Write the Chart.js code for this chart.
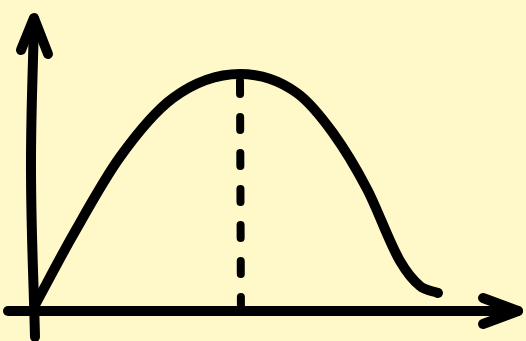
<!DOCTYPE html>
<html>
<head>
<meta charset="utf-8">
<script src="https://cdn.jsdelivr.net/npm/chart.js@4"></script>
<style>
  html, body { margin: 0; padding: 0; background: #fff8c9; }
  #wrap { width: 526px; height: 341px; }
</style>
</head>
<body>
<div id="wrap"><canvas id="sketchChart"></canvas></div>
<script>
// curve (origin where the two axes cross)
const curveX = [0, 39, 86, 139, 206, 263, 299, 333, 366, 386, 404];
const curveY = [4, 76, 154, 213, 237, 218, 178, 122, 50, 25, 18];

// peak marker
const peakX = 206;
const peakTop = 230;
const peakBottom = -14;

// axes with their arrow heads
const yAxisLine = [[1, -26], [-3, 140], [0, 292]];
const yArrow = [[-13, 261], [0, 293], [14, 257]];
const xAxisLine = [[-26, 0], [484, 0]];
const xArrow = [[449, 13], [484, 0], [449, -13]];

function pts(list) {
    return list.map(p => ({ x: p[0], y: p[1] }));
}

const ink = '#000000';

function stroke(data, extra) {
    return Object.assign({
        data: data,
        showLine: true,
        borderColor: ink,
        borderWidth: 10,
        borderCapStyle: 'round',
        borderJoinStyle: 'round',
        pointRadius: 0,
        fill: false,
        tension: 0
    }, extra || {});
}

document.addEventListener('DOMContentLoaded', function() {
    const ctx = document.getElementById('sketchChart');

    new Chart(ctx.getContext('2d'), {
        type: 'scatter',
        data: {
            datasets: [
                stroke(curveX.map((x, i) => ({ x: x, y: curveY[i] })), { cubicInterpolationMode: 'monotone' }),
                stroke([{ x: peakX, y: peakTop }, { x: peakX + 1, y: peakBottom }], {
                    borderWidth: 8,
                    borderDash: [13, 23]
                }),
                stroke(pts(yAxisLine), { tension: 0.4 }),
                stroke(pts(yArrow)),
                stroke(pts(xAxisLine)),
                stroke(pts(xArrow))
            ]
        },
        options: {
            responsive: true,
            maintainAspectRatio: false,
            animation: false,
            layout: { padding: 0 },
            plugins: {
                legend: { display: false },
                tooltip: { enabled: false }
            },
            scales: {
                x: { type: 'linear', min: -34, max: 492, display: false },
                y: { type: 'linear', min: -30, max: 311, display: false }
            }
        }
    });
});
</script>
</body>
</html>
